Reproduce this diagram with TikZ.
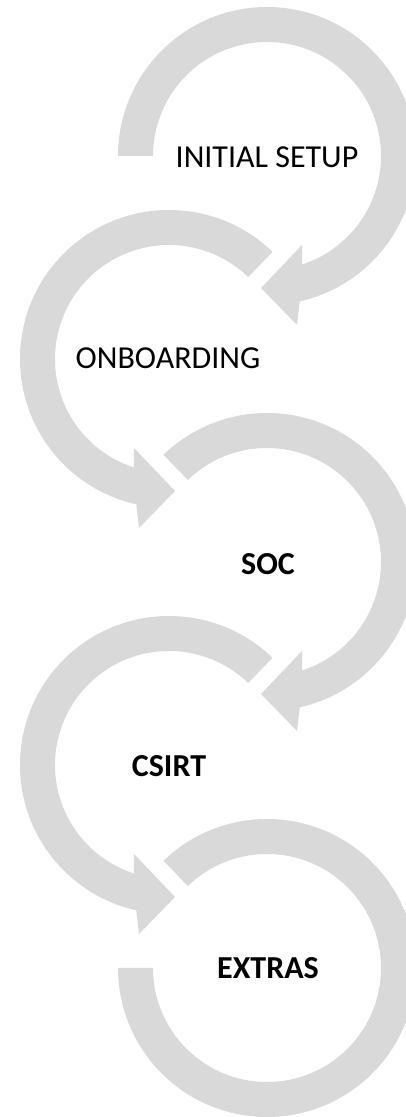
\documentclass[tikz,border=0pt]{standalone}
\usepackage{fontspec}
\setmainfont{Carlito}
\definecolor{ringgray}{HTML}{D9D9D9}
% ring from angle #1 clockwise round to an arrow head at the bottom (centre = scope origin)
\def\headring#1{\fill[ringgray] (#1:149) arc (#1:-77.3:149) -- (30,-169) -- (-6,-132) -- (35,-89) -- (-72:114) arc (-72:#1:114) -- cycle;}

\begin{document}
\begin{tikzpicture}[x=1pt,y=1pt,
	stagetext/.style={inner sep=0pt, font=\fontsize{32}{38}\selectfont},
	stagebold/.style={stagetext, font=\fontsize{32}{38}\selectfont\bfseries}]
		%%%%% START %%%%%
		\useasboundingbox (0,0) rectangle (406,1117);
		\clip (0,0) rectangle (406,1117);
		
		\begin{scope}[shift={(267,961)}]
			\headring{180}
		\end{scope}
		
		\begin{scope}[shift={(169,758)},xscale=-1]
			\headring{134}
		\end{scope}
		
		\begin{scope}[shift={(267,555)}]
			\headring{134}
		\end{scope}
		
		\begin{scope}[shift={(169,352)},xscale=-1]
			\headring{134}
		\end{scope}
		
		% last ring has no head, it stops flat on the left
		\begin{scope}[shift={(267,149)}]
			\fill[ringgray] (134:149) arc (134:-180:149) -- (180:114) arc (-180:134:114) -- cycle;
		\end{scope}
		
		\node[stagetext] (setup) at (267,960) {INITIAL SETUP};
		\node[stagetext] (onboard) at (168,759) {ONBOARDING};
		\node[stagebold] (soc) at (268,553) {SOC};
		\node[stagebold] (csirt) at (169,351) {CSIRT};
		\node[stagebold] (extras) at (268,149) {EXTRAS};
		%%%%% END %%%%%
\end{tikzpicture}
\end{document}
